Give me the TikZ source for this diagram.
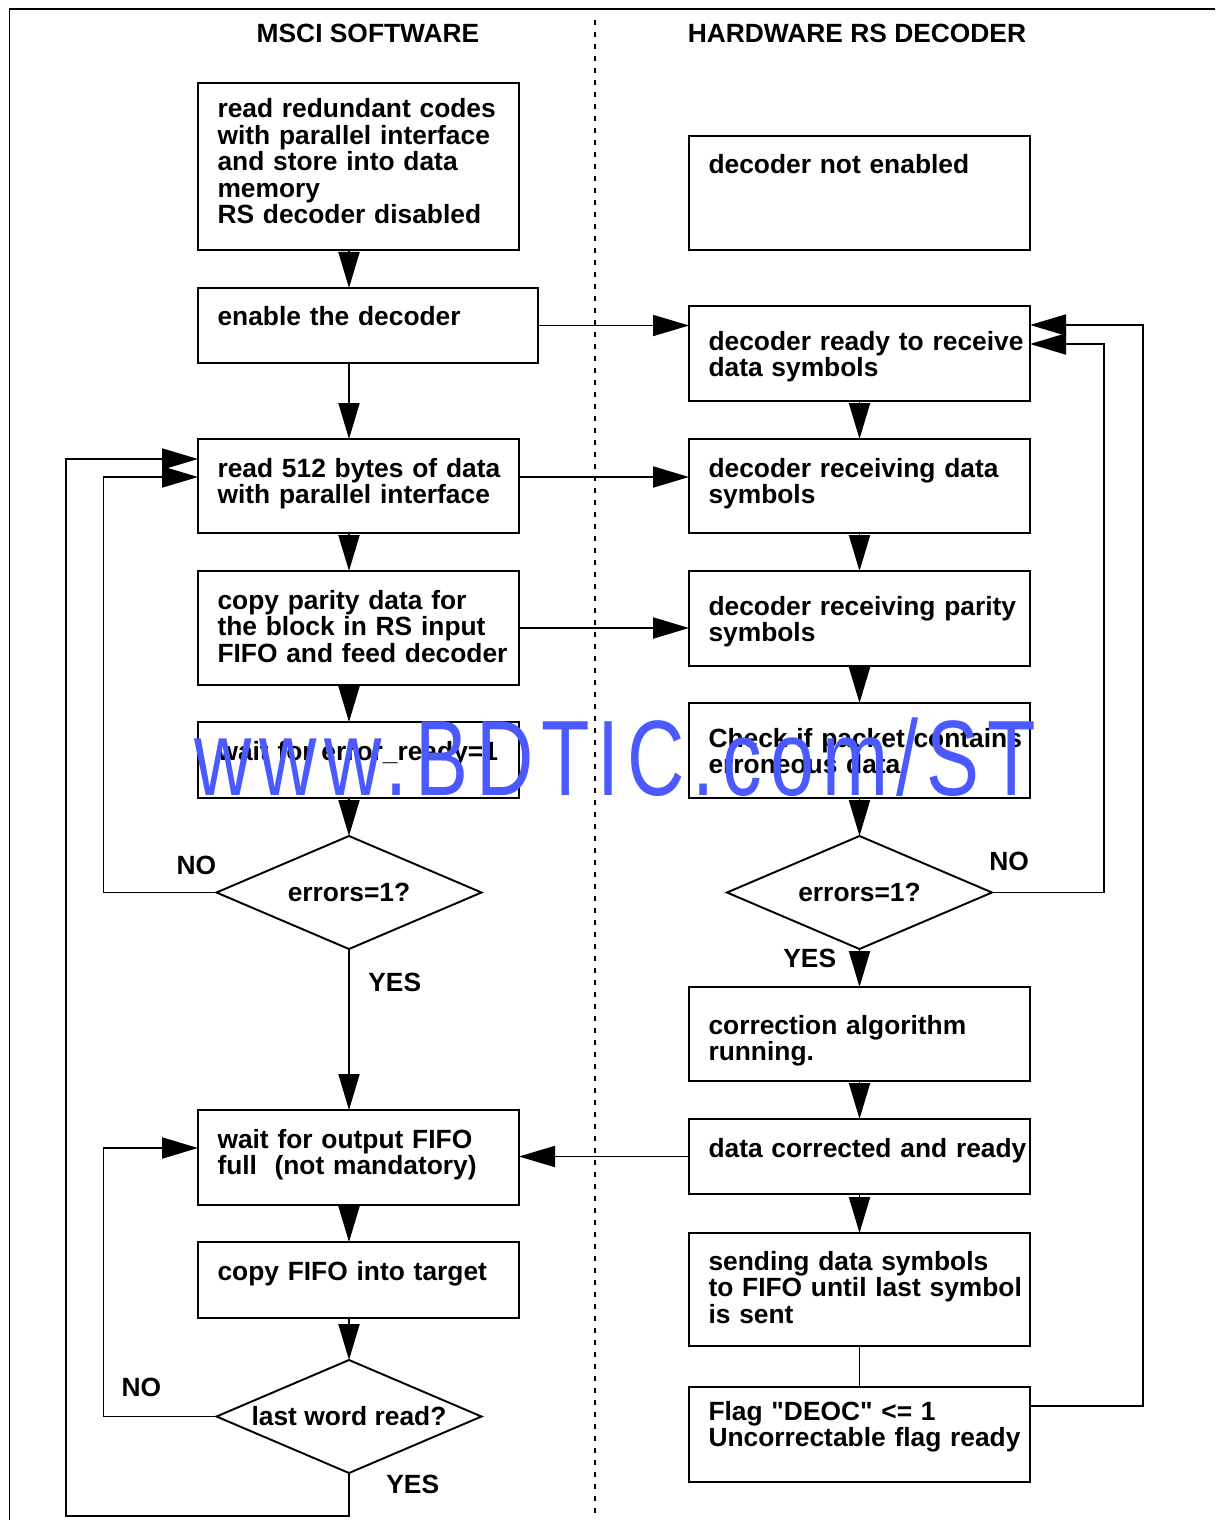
\documentclass[tikz,border=0pt]{standalone}
\usepackage{fontspec}
\setmainfont{Liberation Sans}[Ligatures=TeXOff]
\newfontfamily\stampfont{Liberation Sans}
\usepackage{tikz}
\usetikzlibrary{arrows.meta, positioning, shapes.geometric}
\definecolor{stampblue}{HTML}{4A5AFF}
\newcommand{\chartfont}{\fontsize{15}{15.1}\selectfont\bfseries}

\begin{document}
\begin{tikzpicture}[
    box/.style={draw, line width=1.1pt, outer sep=0pt, align=left, inner xsep=0.39cm, inner ysep=0pt, font=\chartfont,
      execute at begin node={\rightskip=0pt plus 1fil minus 1cm}},
    sw/.style={box, text width=5.64cm},
    hw/.style={box, text width=6.04cm},
    textat/.style 2 args={text height=#1, text depth=#2},
    decision/.style={draw, diamond, aspect=2.35, line width=1.1pt, outer sep=0pt, minimum width=5.3cm, minimum height=2.26cm, inner sep=0pt, font=\chartfont},
    lbl/.style={inner sep=0pt, font=\chartfont},
    arrow/.style={-{Triangle[length=0.72cm, width=0.42cm]}, line width=1.1pt},
    link/.style={line width=1.1pt},
    divider/.style={line width=0.6pt, dash pattern=on 0.1cm off 0.14cm},
    frame/.style={line width=1.1pt},
    stamp/.style={text=stampblue, font={\stampfont\fontsize{61}{61}\selectfont\addfontfeature{LetterSpace=10}}, xscale=0.74, inner sep=0pt}
  ]
    \useasboundingbox (0,0) rectangle (24.3,-30.4);

    \node[lbl] (swhead) at (7.36,-0.66) {MSCI SOFTWARE};
    \node[lbl] (hwhead) at (17.14,-0.66) {HARDWARE RS DECODER};

    % software side
    \node[sw, textat={0.69cm}{2.65cm}, anchor=north west] (read) at (3.96,-1.66) {read redundant codes\\with parallel interface\\and store into data\\memory\\RS decoder disabled};
    \node[box, text width=6.02cm, textat={0.74cm}{0.76cm}, below=0.76cm of read, xshift=0.19cm] (enable) {enable the decoder};
    \node[sw, textat={0.76cm}{1.12cm}, below=1.52cm of enable, xshift=-0.19cm] (readblock) {read 512 bytes of data\\with parallel interface};
    \node[sw, textat={0.76cm}{1.52cm}, below=0.76cm of readblock] (parity) {copy parity data for\\the block in RS input\\FIFO and feed decoder};
    \node[sw, textat={0.76cm}{0.76cm}, below=0.74cm of parity] (waiterr) {wait for error\_ready=1};
    \node[decision, below=0.76cm of waiterr, xshift=-0.19cm] (errsw) {errors=1?};
    \node[sw, textat={0.76cm}{1.14cm}, below=3.22cm of errsw, xshift=0.19cm] (waitfifo) {wait for output FIFO\\full~ (not mandatory)};
    \node[sw, textat={0.76cm}{0.76cm}, below=0.74cm of waitfifo] (copyfifo) {copy FIFO into target};
    \node[decision, below=0.84cm of copyfifo, xshift=-0.19cm] (lastword) {last word read?};

    % hardware side
    \node[hw, textat={0.76cm}{1.52cm}, anchor=north west] (notenabled) at (13.78,-2.72) {decoder not enabled};
    \node[hw, textat={0.88cm}{1.02cm}, below=1.12cm of notenabled] (ready) {decoder ready to receive\\data symbols};
    \node[hw, textat={0.76cm}{1.12cm}, below=0.76cm of ready] (recdata) {decoder receiving data\\symbols};
    \node[hw, textat={0.88cm}{1.02cm}, below=0.76cm of recdata] (recparity) {decoder receiving parity\\symbols};
    \node[hw, textat={0.88cm}{1.02cm}, below=0.74cm of recparity] (check) {Check if packet contains\\erroneous data};
    \node[decision, below=0.76cm of check] (errhw) {errors=1?};
    \node[hw, textat={0.94cm}{0.94cm}, below=0.76cm of errhw] (correct) {correction algorithm\\running.};
    \node[hw, textat={0.76cm}{0.74cm}, below=0.76cm of correct] (corrected) {data corrected and ready};
    \node[hw, textat={0.74cm}{1.52cm}, below=0.78cm of corrected] (sending) {sending data symbols\\to FIFO until last symbol\\is sent};
    \node[hw, textat={0.66cm}{1.24cm}, below=0.82cm of sending] (flag) {Flag "DEOC" <= 1\\Uncorrectable flag ready};

    % software flow
    \draw[arrow] (read.south -| errsw) -- (enable.north -| errsw);
    \draw[arrow] (enable.south -| errsw) -- (readblock.north -| errsw);
    \draw[arrow] (readblock.south -| errsw) -- (parity.north -| errsw);
    \draw[arrow] (parity.south -| errsw) -- (waiterr.north -| errsw);
    \draw[arrow] (waiterr.south -| errsw) -- (errsw);
    \draw[arrow] (errsw) -- (waitfifo.north -| errsw);
    \draw[arrow] (waitfifo.south -| errsw) -- (copyfifo.north -| errsw);
    \draw[arrow] (copyfifo.south -| errsw) -- (lastword);
    \draw[arrow] (errsw.west) -- ++(-2.26,0) |- ([yshift=0.18cm]readblock.west);
    \draw[arrow] (lastword.west) -- ++(-2.26,0) |- ([yshift=0.19cm]waitfifo.west);
    \draw[arrow] (lastword.south) -- ++(0,-0.86) -- ++(-5.66,0) |- ([yshift=0.54cm]readblock.west);

    % software to decoder
    \draw[arrow] (enable.east) -- (enable.east -| ready.west);
    \draw[arrow] ([yshift=0.18cm]readblock.east) -- ([yshift=0.18cm]recdata.west);
    \draw[arrow] (parity.east) -- (parity.east -| recparity.west);
    \draw[arrow] (corrected.west) -- (corrected.west -| waitfifo.east);

    % hardware flow
    \draw[arrow] (ready) -- (recdata);
    \draw[arrow] (recdata) -- (recparity);
    \draw[arrow] (recparity) -- (check);
    \draw[arrow] (check) -- (errhw);
    \draw[arrow] (errhw) -- (correct);
    \draw[arrow] (correct) -- (corrected);
    \draw[arrow] (corrected) -- (sending);
    \draw[link] (sending) -- (flag);
    \draw[arrow] (errhw.east) -- ++(2.24,0) |- ([yshift=0.19cm]ready.east);
    \draw[arrow] ([yshift=0.57cm]flag.east) -- ++(2.26,0) |- ([yshift=0.57cm]ready.east);

    \node[lbl, above left=0.35cm and 0cm of errsw.west] (nosw) {NO};
    \node[lbl, below right=0.47cm and 0.38cm of errsw.south] (yessw) {YES};
    \node[lbl, above left=0.38cm and 1.1cm of lastword.west] (nolast) {NO};
    \node[lbl, below right=0.03cm and 0.74cm of lastword.south] (yeslast) {YES};
    \node[lbl, above right=0.42cm and -0.06cm of errhw.east] (nohw) {NO};
    \node[lbl, below left=0cm and 0.46cm of errhw.south] (yeshw) {YES};

    \draw[divider] (11.9,-0.4) -- (11.9,-30.4);
    \draw[frame] (24.3,-0.18) -- (0.19,-0.18) -- (0.19,-30.4);

    \node[stamp, anchor=base] (watermark) at (12.3,-15.9) {www.BDTIC.com/ST};
\end{tikzpicture}
\end{document}
